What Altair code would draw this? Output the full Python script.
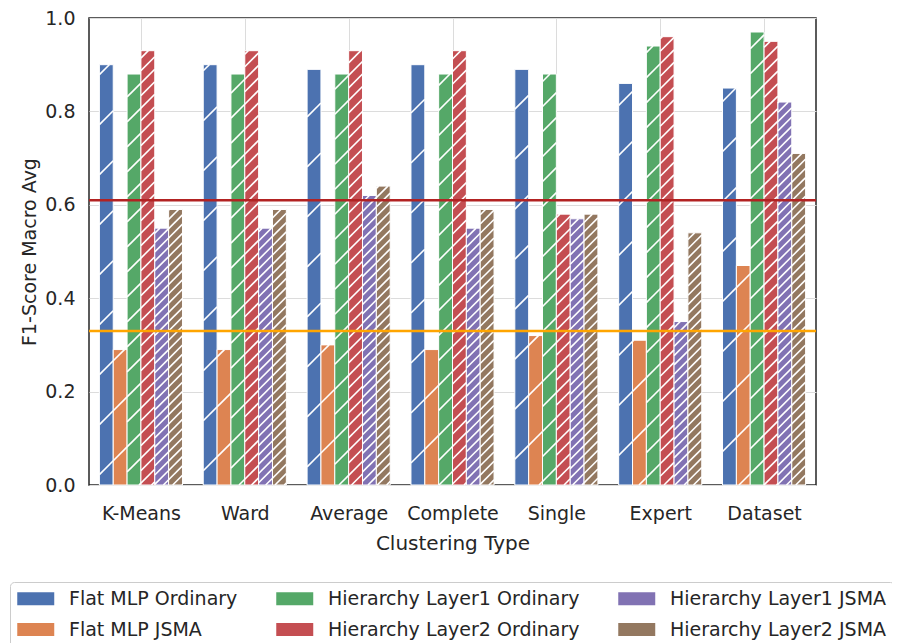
import json
import altair as alt
import pandas as pd

# ---- data ----
clusters = ["K-Means", "Ward", "Average", "Complete", "Single", "Expert", "Dataset"]
series = ["Flat MLP Ordinary", "Flat MLP JSMA", "Hierarchy Layer1 Ordinary",
          "Hierarchy Layer2 Ordinary", "Hierarchy Layer1 JSMA", "Hierarchy Layer2 JSMA"]
flat_ord = [0.90, 0.90, 0.89, 0.90, 0.89, 0.86, 0.85]
flat_jsma = [0.29, 0.29, 0.30, 0.29, 0.32, 0.31, 0.47]
l1_ord = [0.88, 0.88, 0.88, 0.88, 0.88, 0.94, 0.97]
l2_ord = [0.93, 0.93, 0.93, 0.93, 0.58, 0.96, 0.95]
l1_jsma = [0.55, 0.55, 0.62, 0.55, 0.57, 0.35, 0.82]
l2_jsma = [0.59, 0.59, 0.64, 0.59, 0.58, 0.54, 0.71]
ref_red = [0.61]
ref_orange = [0.33]
y_ticks = [0.0, 0.2, 0.4, 0.6, 0.8, 1.0]

# ---- styles ----
colors = ["#4C72B0", "#DD8452", "#55A868", "#C44E52", "#8172B3", "#937860"]
hatch_px = [50, 50, 25, 12.5, 9.3, 9.3]   # vertical hatch spacing in pixels
W, H = 727, 467
group_width = 0.8

values = [flat_ord, flat_jsma, l1_ord, l2_ord, l1_jsma, l2_jsma]
bw = group_width / len(series)
px_x = W / len(clusters)
px_y = H / 1.0
dy = bw * px_x / px_y  # 45-degree rise across one bar (data units)

bar_rows, hatch_rows = [], []
for j, s in enumerate(series):
    for i, c in enumerate(clusters):
        v = values[j][i]
        left = i - group_width / 2 + j * bw
        right = left + bw
        bar_rows.append({"x0": left, "x1": right, "value": v, "base": 0.0,
                         "series": s, "cluster": c})
        # hatch lines, globally aligned like matplotlib hatching
        Lpx = (left + 0.5) * px_x
        sp = hatch_px[j]
        k = int((-dy * px_y - Lpx) // sp) - 1
        while True:
            yl = (Lpx + k * sp) / px_y
            k += 1
            if yl > v:
                break
            if yl + dy < 0:
                continue
            t0 = max(0.0, -yl / dy)
            t1 = min(1.0, (v - yl) / dy)
            if t1 <= t0:
                continue
            hatch_rows.append({"x0": left + t0 * bw, "x1": left + t1 * bw,
                               "value": yl + t0 * dy, "y1": yl + t1 * dy})

df_bars = pd.DataFrame(bar_rows)
df_hatch = pd.DataFrame(hatch_rows)

x_scale = alt.Scale(domain=[-0.5, len(clusters) - 0.5], nice=False, zero=False)
y_scale = alt.Scale(domain=[0, 1], nice=False)
x_axis = alt.Axis(values=list(range(len(clusters))),
                  labelExpr=json.dumps(clusters) + "[datum.value]",
                  title="Clustering Type", grid=True, ticks=False, domain=False,
                  labelPadding=19, titlePadding=10, labelFontSize=19, titleFontSize=20)
y_axis = alt.Axis(values=y_ticks, format=".1f", title="F1-Score Macro Avg",
                  grid=True, ticks=False, domain=False, labelPadding=14,
                  titlePadding=5, labelFontSize=19, titleFontSize=19)

bars = alt.Chart(df_bars).mark_bar(stroke="white", strokeWidth=1).encode(
    x=alt.X("x0:Q", scale=x_scale, axis=x_axis),
    x2="x1:Q",
    y=alt.Y("value:Q", scale=y_scale, axis=y_axis),
    y2="base:Q",
    color=alt.Color("series:N",
                    scale=alt.Scale(domain=series, range=colors),
                    legend=alt.Legend(title=None, orient="none", legendX=-79, legendY=564,
                                      columns=3, symbolType="M-1,-0.7H3V0.7H-1Z",
                                      symbolSize=342, symbolStrokeWidth=0,
                                      symbolOpacity=1, labelOffset=33,
                                      columnPadding=38, rowPadding=11, padding=7,
                                      labelFontSize=19, labelLimit=400,
                                      strokeColor="#cccccc", fillColor="white",
                                      cornerRadius=4)),
)

hatch = alt.Chart(df_hatch).mark_rule(color="white", strokeWidth=1.6).encode(
    x=alt.X("x0:Q", scale=x_scale, axis=x_axis),
    x2="x1:Q",
    y=alt.Y("value:Q", scale=y_scale, axis=y_axis),
    y2="y1:Q",
)

red_line = alt.Chart(pd.DataFrame({"value": ref_red})).mark_rule(
    color="#B22222", strokeWidth=2.5).encode(
    y=alt.Y("value:Q", scale=y_scale, axis=y_axis))
orange_line = alt.Chart(pd.DataFrame({"value": ref_orange})).mark_rule(
    color="#FFA500", strokeWidth=2.5).encode(
    y=alt.Y("value:Q", scale=y_scale, axis=y_axis))

chart = alt.layer(bars, hatch, red_line, orange_line).properties(
    width=W, height=H,
    autosize=alt.AutoSizeParams(type="none"),
    padding={"left": 81, "top": 10, "right": 76, "bottom": 160},
).configure(font="DejaVu Sans").configure_view(
    stroke="#262626", strokeWidth=1.5
).configure_axis(
    labelColor="#262626", titleColor="#262626", titleFontWeight="normal",
    gridColor="#dcdcdc", gridWidth=1, labelFont="DejaVu Sans", titleFont="DejaVu Sans"
).configure_legend(labelColor="#262626", labelFont="DejaVu Sans")

chart.save("out.html", embed_options={"renderer": "svg", "actions": False})
